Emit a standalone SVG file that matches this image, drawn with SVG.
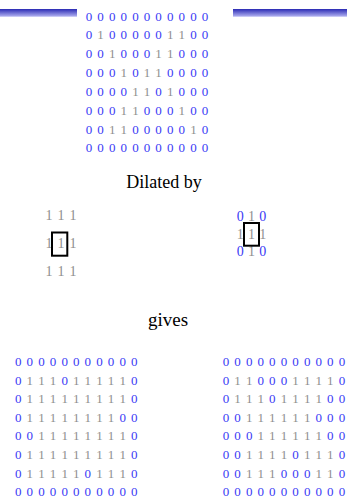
<svg xmlns="http://www.w3.org/2000/svg" width="347" height="498" viewBox="0 0 347 498">
<defs>
<linearGradient id="bar" x1="0" y1="0" x2="0" y2="1">
<stop offset="0" stop-color="#2a2ab4"/>
<stop offset="1" stop-color="#b4b4f2"/>
</linearGradient>
<style>
.m{font-family:"Liberation Serif","Times New Roman",serif;font-size:13px;fill:#3a3af5;word-spacing:1.85px}
.s1{font-family:"Liberation Serif","Times New Roman",serif;font-size:14px;fill:#8f8f8f;word-spacing:1.5px}
.s2{font-family:"Liberation Serif","Times New Roman",serif;font-size:14px;fill:#3a3af5;word-spacing:0.75px}
.g{fill:#8f8f8f}
.lbl{font-family:"Liberation Serif","Times New Roman",serif;font-size:18px;fill:#000;text-anchor:middle}
.box{fill:none;stroke:#000;stroke-width:2}
</style>
</defs>
<rect width="347" height="498" fill="#fff"/>
<g id="bars">
<rect x="0" y="9" width="77" height="7.7" fill="url(#bar)"/>
<rect x="233" y="9" width="114" height="7.7" fill="url(#bar)"/>
</g>
<g id="input-matrix" class="m">
<text x="85.75" y="20.5">0 0 0 0 0 0 0 0 0 0 0</text>
<text x="85.75" y="39.35">0 <tspan class="g">1</tspan> 0 0 0 0 0 <tspan class="g">1 1</tspan> 0 0</text>
<text x="85.75" y="58.2">0 0 <tspan class="g">1</tspan> 0 0 0 <tspan class="g">1 1</tspan> 0 0 0</text>
<text x="85.75" y="77.05">0 0 0 <tspan class="g">1</tspan> 0 <tspan class="g">1 1</tspan> 0 0 0 0</text>
<text x="85.75" y="95.9">0 0 0 0 <tspan class="g">1 1</tspan> 0 <tspan class="g">1</tspan> 0 0 0</text>
<text x="85.75" y="114.75">0 0 0 <tspan class="g">1 1</tspan> 0 0 0 <tspan class="g">1</tspan> 0 0</text>
<text x="85.75" y="133.6">0 0 <tspan class="g">1 1</tspan> 0 0 0 0 0 <tspan class="g">1</tspan> 0</text>
<text x="85.75" y="152.45">0 0 0 0 0 0 0 0 0 0 0</text>
</g>
<g id="label-dilated">
<text class="lbl" x="164" y="188">Dilated by</text>
</g>
<g id="se-square" class="s1">
<text x="45.5" y="220">1 1 1</text>
<text x="45.5" y="248.3">1 1 1</text>
<text x="45.5" y="276.3">1 1 1</text>
<rect class="box" x="52" y="232.5" width="15.3" height="23.2"/>
</g>
<g id="se-cross" class="s2">
<text x="236.8" y="220.5">0 <tspan class="g">1</tspan> 0</text>
<text x="236.8" y="238.5"><tspan class="g">1 1 1</tspan></text>
<text x="236.8" y="255.5">0 <tspan class="g">1</tspan> 0</text>
<rect class="box" x="244" y="223" width="15" height="22.7"/>
</g>
<g id="label-gives">
<text class="lbl" x="168" y="326" style="font-size:19px">gives</text>
</g>
<g id="result-square" class="m">
<text x="15" y="366">0 0 0 0 0 0 0 0 0 0 0</text>
<text x="15" y="384.6">0 <tspan class="g">1 1 1</tspan> 0 <tspan class="g">1 1 1 1 1</tspan> 0</text>
<text x="15" y="403.2">0 <tspan class="g">1 1 1 1 1 1 1 1 1</tspan> 0</text>
<text x="15" y="421.8">0 <tspan class="g">1 1 1 1 1 1 1 1</tspan> 0 0</text>
<text x="15" y="440.4">0 0 <tspan class="g">1 1 1 1 1 1 1 1</tspan> 0</text>
<text x="15" y="459">0 <tspan class="g">1 1 1 1 1 1 1 1 1</tspan> 0</text>
<text x="15" y="477.6">0 <tspan class="g">1 1 1 1 1</tspan> 0 <tspan class="g">1 1 1</tspan> 0</text>
<text x="15" y="496.2">0 0 0 0 0 0 0 0 0 0 0</text>
</g>
<g id="result-cross" class="m">
<text x="222.7" y="366">0 0 0 0 0 0 0 0 0 0 0</text>
<text x="222.7" y="384.6">0 <tspan class="g">1 1</tspan> 0 0 0 <tspan class="g">1 1 1 1</tspan> 0</text>
<text x="222.7" y="403.2">0 <tspan class="g">1 1 1</tspan> 0 <tspan class="g">1 1 1 1</tspan> 0 0</text>
<text x="222.7" y="421.8">0 0 <tspan class="g">1 1 1 1 1 1</tspan> 0 0 0</text>
<text x="222.7" y="440.4">0 0 0 <tspan class="g">1 1 1 1 1 1</tspan> 0 0</text>
<text x="222.7" y="459">0 0 <tspan class="g">1 1 1 1</tspan> 0 <tspan class="g">1 1 1</tspan> 0</text>
<text x="222.7" y="477.6">0 0 <tspan class="g">1 1 1</tspan> 0 0 0 <tspan class="g">1 1</tspan> 0</text>
<text x="222.7" y="496.2">0 0 0 0 0 0 0 0 0 0 0</text>
</g>
</svg>
